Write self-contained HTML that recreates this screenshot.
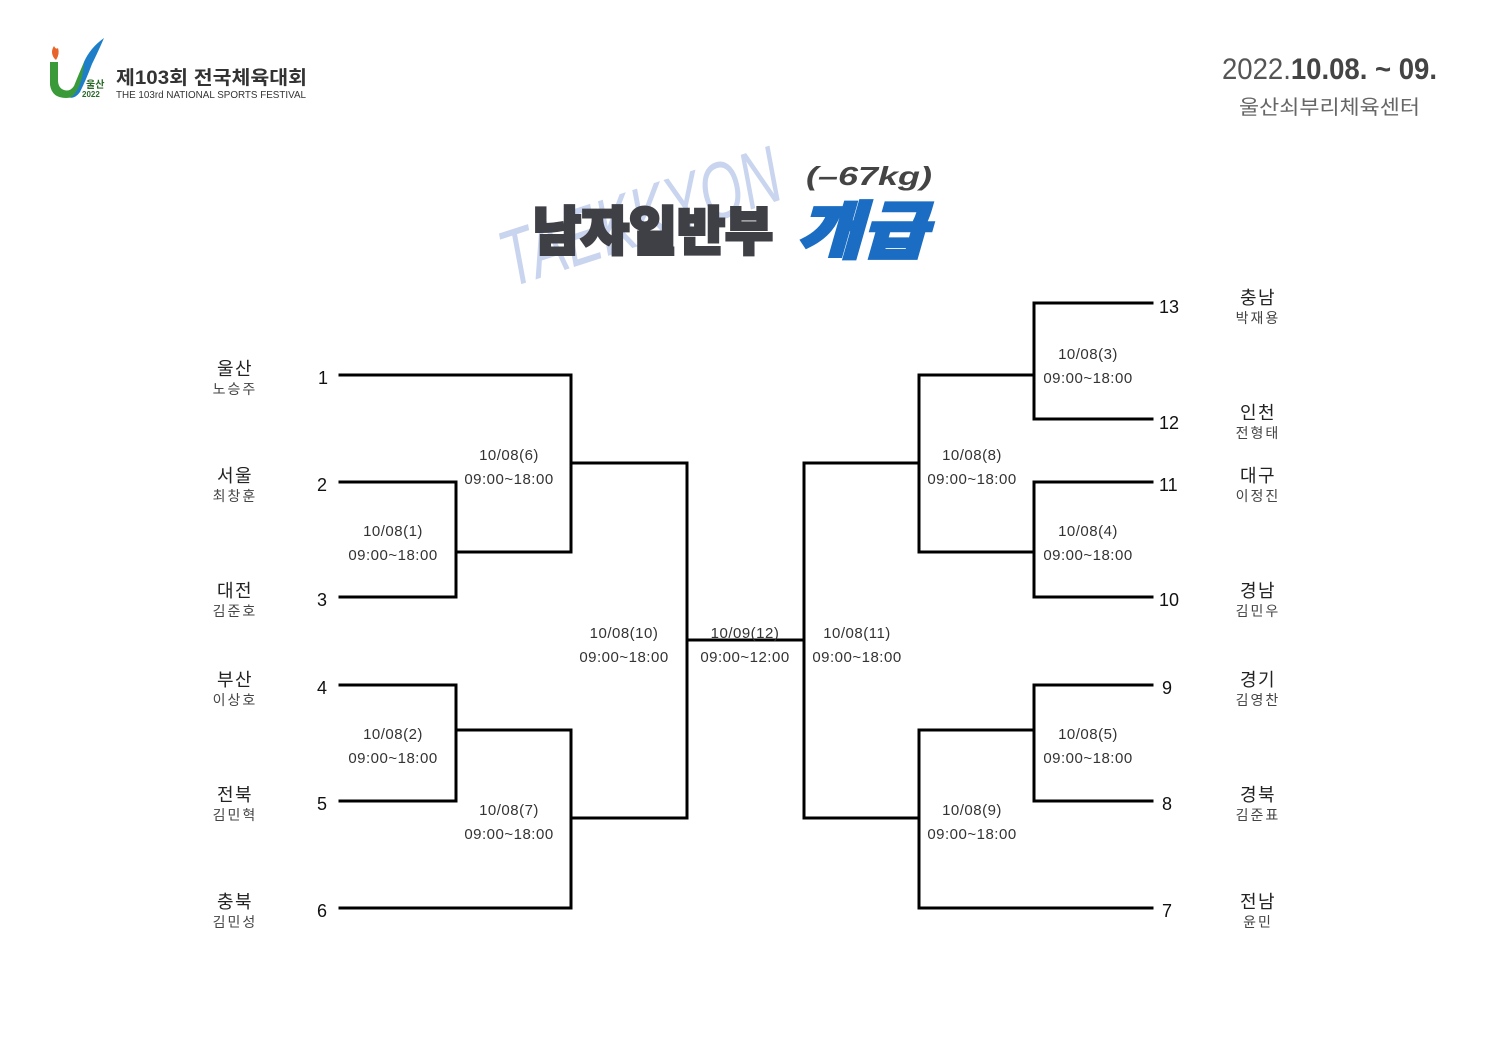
<!DOCTYPE html>
<html><head><meta charset="utf-8"><style>
html,body{margin:0;padding:0;background:#fff;}
svg{display:block;}
text{font-family:"Liberation Sans","Noto Sans CJK KR",sans-serif;}
</style></head><body>
<svg width="1500" height="1060" viewBox="0 0 1500 1060" xmlns="http://www.w3.org/2000/svg">
<rect width="1500" height="1060" fill="#fff"/>
<!-- logo -->
<path d="M50 62 L50 85 Q52 98 66 98 Q80 98 82 80 Q86 55 103 40 Q90 50 84 62 Q78 76 74 86 Q70 92 64 90 Q58 88 58 80 L58 62 Z" fill="#3a9a3a"/>
<path d="M84 62 Q90 48 104 38 Q98 52 92 64 Q86 80 80 92 Q76 98 70 98 Q82 90 84 62Z" fill="#1e7fc8"/>
<path d="M54 58 Q50 52 54 46 Q56 50 58 48 Q60 54 56 60Z" fill="#e8632a"/>
<text x="86" y="88" font-size="10" font-weight="bold" fill="#2a6a2a">울산</text>
<text x="82" y="97" font-size="8" font-weight="bold" fill="#2a6a2a">2022</text>
<text x="116" y="84" font-size="19" font-weight="bold" fill="#333" textLength="191" lengthAdjust="spacingAndGlyphs">제103회 전국체육대회</text>
<text x="116" y="98" font-size="10" fill="#333" textLength="190" lengthAdjust="spacingAndGlyphs">THE 103rd NATIONAL SPORTS FESTIVAL</text>
<!-- date -->
<text x="1222" y="79" font-size="30" fill="#555" textLength="215" lengthAdjust="spacingAndGlyphs">2022.<tspan font-weight="bold" fill="#444">10.08. ~ 09.</tspan></text>
<text x="1239" y="114" font-size="20" fill="#666" textLength="181" lengthAdjust="spacingAndGlyphs">울산쇠부리체육센터</text>
<!-- title -->
<text x="492" y="250" font-size="80" font-style="italic" fill="#c9d4ee" transform="rotate(-18 620 210)" textLength="290" lengthAdjust="spacingAndGlyphs">TAEKKYON</text>
<text x="806" y="185" font-size="26" font-weight="bold" font-style="italic" fill="#444" textLength="126" lengthAdjust="spacingAndGlyphs">(–67kg)</text>
<text x="533" y="250" font-size="52" font-weight="900" fill="#3f4046" stroke="#3f4046" stroke-width="3" textLength="240" lengthAdjust="spacingAndGlyphs">남자일반부</text>
<text x="797" y="253" font-size="62" font-weight="900" font-style="italic" fill="#1a6dc2" stroke="#1a6dc2" stroke-width="3" textLength="130" lengthAdjust="spacingAndGlyphs">개급</text>
<!-- bracket -->
<g stroke="#000" stroke-width="3" fill="none" stroke-linecap="square">
<path d="M340 375H571V552H456"/>
<path d="M340 482H456V597H340"/>
<path d="M571 463H687V818H571"/>
<path d="M340 685H456V801H340"/>
<path d="M456 730H571V908H340"/>
<path d="M687 640H804"/>
<path d="M919 463H804V818H919"/>
<path d="M1152 303H1034V419H1152"/>
<path d="M1034 375H919V552H1034"/>
<path d="M1152 482H1034V597H1152"/>
<path d="M1152 685H1034V801H1152"/>
<path d="M1034 730H919V908H1152"/>
</g>
<!-- numbers -->
<g font-size="18" fill="#111">
<text x="318" y="384">1</text><text x="317" y="491">2</text><text x="317" y="606">3</text>
<text x="317" y="694">4</text><text x="317" y="810">5</text><text x="317" y="917">6</text>
<text x="1159" y="313">13</text><text x="1159" y="429">12</text><text x="1159" y="491">11</text>
<text x="1159" y="606">10</text><text x="1162" y="694">9</text><text x="1162" y="810">8</text><text x="1162" y="917">7</text>
</g>
<!-- names -->
<g text-anchor="middle">
<g font-size="18" fill="#222" letter-spacing="1.5">
<text x="235" y="375">울산</text><text x="235" y="482">서울</text><text x="235" y="597">대전</text>
<text x="235" y="686">부산</text><text x="235" y="801">전북</text><text x="235" y="908">충북</text>
<text x="1258" y="304">충남</text><text x="1258" y="419">인천</text><text x="1258" y="482">대구</text>
<text x="1258" y="597">경남</text><text x="1258" y="686">경기</text><text x="1258" y="801">경북</text><text x="1258" y="908">전남</text>
</g>
<g font-size="14" fill="#444" letter-spacing="2">
<text x="235" y="394">노승주</text><text x="235" y="501">최창훈</text><text x="235" y="616">김준호</text>
<text x="235" y="705">이상호</text><text x="235" y="820">김민혁</text><text x="235" y="927">김민성</text>
<text x="1258" y="323">박재용</text><text x="1258" y="438">전형태</text><text x="1258" y="501">이정진</text>
<text x="1258" y="616">김민우</text><text x="1258" y="705">김영찬</text><text x="1258" y="820">김준표</text><text x="1258" y="927">윤민</text>
</g>
<!-- match labels -->
<g font-size="15" fill="#333" letter-spacing="0.5">
<text x="393" y="536">10/08(1)</text><text x="393" y="560">09:00~18:00</text>
<text x="509" y="460">10/08(6)</text><text x="509" y="484">09:00~18:00</text>
<text x="393" y="739">10/08(2)</text><text x="393" y="763">09:00~18:00</text>
<text x="509" y="815">10/08(7)</text><text x="509" y="839">09:00~18:00</text>
<text x="624" y="638">10/08(10)</text><text x="624" y="662">09:00~18:00</text>
<text x="745" y="638">10/09(12)</text><text x="745" y="662">09:00~12:00</text>
<text x="857" y="638">10/08(11)</text><text x="857" y="662">09:00~18:00</text>
<text x="1088" y="359">10/08(3)</text><text x="1088" y="383">09:00~18:00</text>
<text x="972" y="460">10/08(8)</text><text x="972" y="484">09:00~18:00</text>
<text x="1088" y="536">10/08(4)</text><text x="1088" y="560">09:00~18:00</text>
<text x="1088" y="739">10/08(5)</text><text x="1088" y="763">09:00~18:00</text>
<text x="972" y="815">10/08(9)</text><text x="972" y="839">09:00~18:00</text>
</g>
</g>
</svg>
</body></html>
